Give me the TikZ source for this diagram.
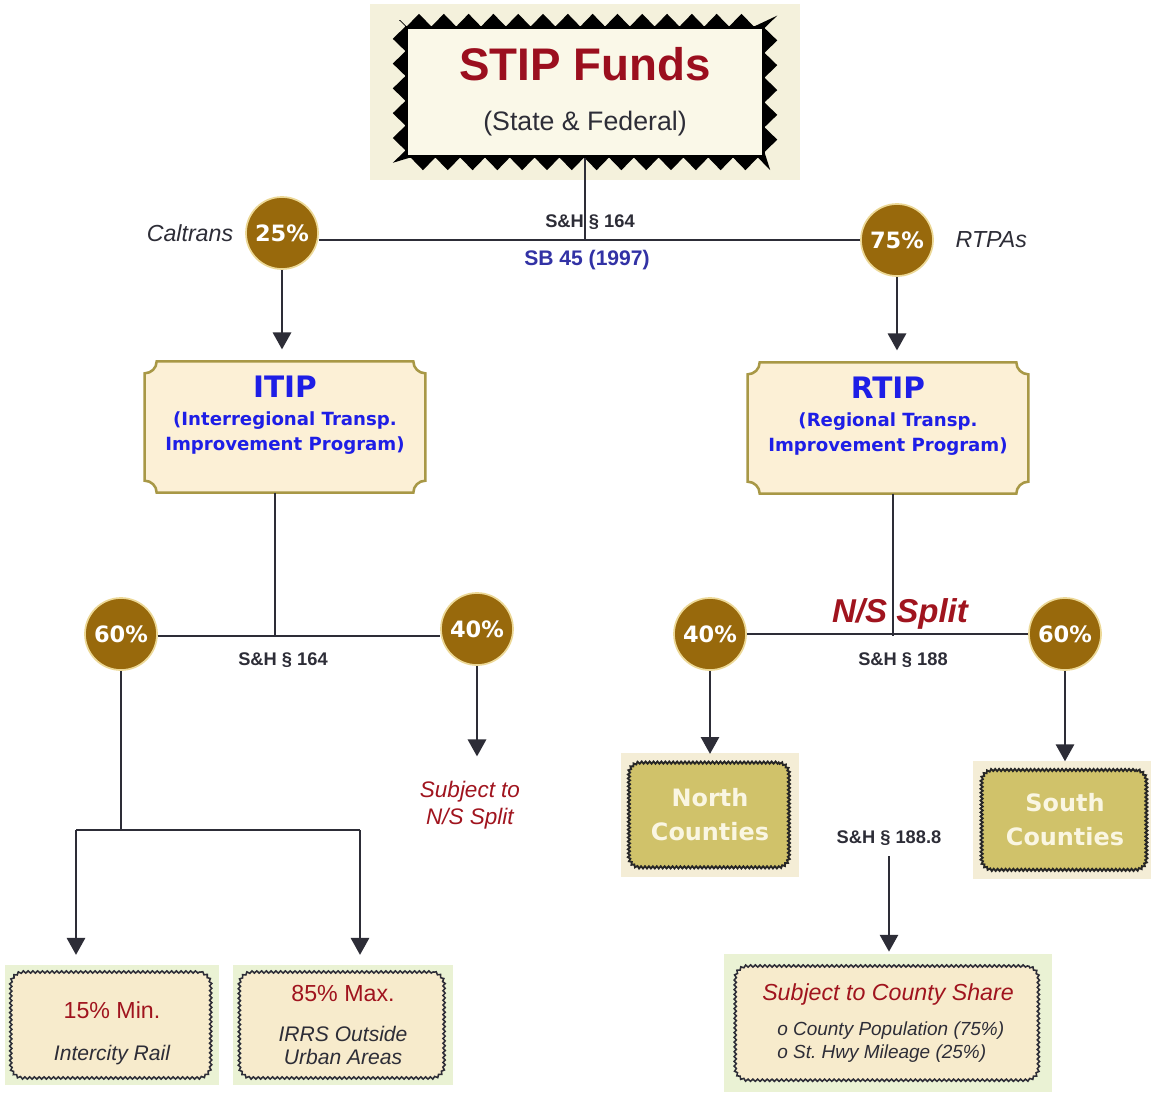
\documentclass[tikz,border=0pt]{standalone}
\usepackage{fontspec}
\setmainfont{Liberation Sans}
\newfontfamily\verd{DejaVu Sans}
\usetikzlibrary{arrows.meta,positioning,calc,decorations.pathmorphing,backgrounds}
\usepackage{xcolor}
\definecolor{stipred}{RGB}{155,15,30}
\definecolor{stipcream}{RGB}{250,248,232}
\definecolor{pctbrown}{RGB}{152,105,12}
\definecolor{pctrim}{RGB}{236,216,150}
\definecolor{progblue}{RGB}{30,30,230}
\definecolor{sbblue}{RGB}{50,50,165}
\definecolor{plaqfill}{RGB}{252,240,214}
\definecolor{plaqline}{RGB}{168,152,70}
\definecolor{paleyellow}{RGB}{244,241,220}
\definecolor{palegreen}{RGB}{234,242,212}
\definecolor{boxcream}{RGB}{247,235,204}
\definecolor{olivebox}{RGB}{208,194,106}
\definecolor{olivebg}{RGB}{244,237,214}
\definecolor{countytext}{RGB}{250,246,226}
\definecolor{notered}{RGB}{160,20,30}
\definecolor{inkgray}{RGB}{45,45,55}

\newcommand{\fsz}[2]{\fontsize{#1}{#2}\selectfont}
% scroll frame with bitten corners round a node
\newcommand{\plaque}[2]{%
  \draw[plaqline, line width=1.8pt, fill=plaqfill]
    ($(#1.north west)+(#2,0)$) -- ($(#1.north east)+(-#2,0)$)
    .. controls ($(#1.north east)+(-#2,0.55*#2)$) and ($(#1.north east)+(-0.55*#2,#2)$) .. ($(#1.north east)+(0,#2)$)
    -- ($(#1.south east)+(0,-#2)$)
    .. controls ($(#1.south east)+(-0.55*#2,-#2)$) and ($(#1.south east)+(-#2,-0.55*#2)$) .. ($(#1.south east)+(-#2,0)$)
    -- ($(#1.south west)+(#2,0)$)
    .. controls ($(#1.south west)+(#2,-0.55*#2)$) and ($(#1.south west)+(0.55*#2,-#2)$) .. ($(#1.south west)+(0,-#2)$)
    -- ($(#1.north west)+(0,#2)$)
    .. controls ($(#1.north west)+(0.55*#2,#2)$) and ($(#1.north west)+(#2,0.55*#2)$) .. cycle;}
% pale panel behind a box
\newcommand{\backdrop}[3]{\fill[#1] ($(#2.north west)+(-#3,-#3)$) rectangle ($(#2.south east)+(#3,#3)$);}

\begin{document}
\begin{tikzpicture}[x=0.025cm, y=-0.025cm,
    stipbox/.style={rectangle, draw=black, line width=2pt, fill=stipcream, minimum width=8.92cm, minimum height=3.22cm, align=center, inner sep=0pt, font=\fsz{19}{35.5}},
    pct/.style={circle, fill=pctbrown, draw=pctrim, line width=1.2pt, minimum size=1.8cm, inner sep=0pt, text=white, font=\verd\bfseries\fsz{16}{18}},
    link/.style={draw=inkgray, line width=1.4pt},
    flow/.style={link, -{Triangle[width=13pt,length=12pt]}},
    law/.style={font=\bfseries\fsz{13}{15}, text=inkgray},
    who/.style={font=\itshape\fsz{16.5}{19}, text=inkgray},
    prog/.style={rectangle, minimum width=7cm, minimum height=3.27cm, align=center, text=progblue, inner sep=0pt, font=\verd\bfseries\fsz{12.9}{17.8}},
    note/.style={font=\itshape\fsz{16}{19.2}, text=notered, align=center},
    split/.style={font=\bfseries\itshape\fsz{23.5}{26}, text=notered},
    share/.style={rectangle, fill=boxcream, rounded corners=9pt, postaction={sharp corners, draw=inkgray, line width=1.1pt, decorate, decoration={snake, segment length=3.4pt, amplitude=0.8pt}}, align=center, inner sep=0pt, text=inkgray, font=\fsz{15}{16.5}},
    county/.style={rectangle, fill=olivebox, rounded corners=8pt, postaction={sharp corners, draw=black!85, line width=1.3pt, decorate, decoration={snake, segment length=2.8pt, amplitude=0.8pt}}, align=center, inner sep=0pt, text=countytext, font=\verd\bfseries\fsz{17}{24.2}}
]
\useasboundingbox (0,0) rectangle (1151,1094);

% Funds
\node[stipbox] (stip) at (585,92) {{\fsz{32.5}{36}\bfseries\color{stipred}STIP Funds}\\{\color{inkgray}(State \& Federal)}};
\path[fill=black, even odd rule]
  decorate[decoration={zigzag, segment length=0.62cm, amplitude=0.16cm}]
    {($(stip.north west)+(-6,-6)$) rectangle ($(stip.south east)+(6,6)$)}
  (stip.north west) rectangle (stip.south east);

% first split
\node[pct] (p25) at (282,233) {25\%};
\node[pct] (p75) at (897,240) {75\%};
\node[who, left=5pt of p25] (caltrans) {Caltrans};
\node[who, right=12pt of p75] (rtpas) {RTPAs};
\draw[link] (stip) -- (stip |- p75);
\draw[link] (p25.east |- p75) -- (p75);
\node[law] (sh164a) at (590,222) {S\&H § 164};
\node[law, text=sbblue, font=\bfseries\fsz{15}{17}] (sb45) at (587,260) {SB 45 (1997)};

% programs
\node[prog, text depth=19.9pt] (itip) at (285,427) {{\fsz{21}{24}ITIP}\\[2pt](Interregional Transp.\\Improvement Program)};
\node[prog, text depth=19.9pt] (rtip) at (888,428) {{\fsz{21}{24}RTIP}\\[2pt](Regional Transp.\\Improvement Program)};
\draw[flow, shorten >=8.5pt] (p25) -- (p25 |- itip.north);
\draw[flow, shorten >=8.5pt] (p75) -- (p75 |- rtip.north);

% ITIP split
\coordinate (lsplit) at (275,636);
\node[pct] (p60l) at (121,634) {60\%};
\node[pct] (p40l) at (477,629) {40\%};
\draw[link] (lsplit |- itip.south) -- (lsplit);
\draw[link] (p60l.east |- lsplit) -- (p40l.west |- lsplit);
\node[law] (sh164b) at (283,660) {S\&H § 164};
\node[note] (nsnote) at (470,805) {Subject to\\N/S Split};
\draw[flow, shorten >=14pt] (p40l) -- (p40l |- nsnote.north);

\node[share, minimum width=5cm, minimum height=2.65cm, text height=53pt] (minbox) at (112,1025)
  {{\color{notered}\fsz{16.5}{18}15\% Min.}\\[13pt]{\itshape Intercity Rail}};
\node[share, minimum width=5.12cm, minimum height=2.65cm] (maxbox) at (343,1025)
  {{\color{notered}\fsz{16.5}{18}85\% Max.}\\[12pt]{\itshape IRRS Outside}\\{\itshape Urban Areas}};
\coordinate (forkl) at (76,830);
\coordinate (forkr) at (360,830);
\draw[link] (p60l) -- (p60l |- forkl);
\draw[link] (forkl) -- (forkr);
\draw[flow, shorten >=12pt] (forkl) -- (forkl |- minbox.north);
\draw[flow, shorten >=12pt] (forkr) -- (forkr |- maxbox.north);

% RTIP split
\coordinate (rsplit) at (893,636);
\node[pct] (p40r) at (710,634) {40\%};
\node[pct] (p60r) at (1065,634) {60\%};
\draw[link] (rsplit |- rtip.south) -- (rsplit);
\draw[link] (p40r) -- (p60r);
\node[split] (nssplit) at (900,614) {N/S Split};
\node[law] (sh188) at (903,660) {S\&H § 188};
\node[county, minimum width=4cm, minimum height=2.62cm] (north) at (710,815) {North\\Counties};
\node[county, minimum width=4.12cm, minimum height=2.5cm] (south) at (1065,820) {South\\Counties};
\draw[flow, shorten >=6pt] (p40r) -- (north);
\draw[flow, shorten >=6pt] (p60r) -- (south);

\node[law] (sh1888) at (889,838) {S\&H § 188.8};
\node[share, minimum width=7.58cm, minimum height=2.85cm, align=left, font=\itshape\fsz{13.5}{16.4}] (cshare) at (888,1023)
  {{\color{notered}\fsz{16.5}{18}Subject to County Share}\\[9pt]\hspace*{10.7pt}o County Population (75\%)\\\hspace*{10.7pt}o St.\ Hwy Mileage (25\%)};
\draw[flow, shorten <=4pt, shorten >=10pt] (sh1888) -- (sh1888 |- cshare.north);

% panels
\begin{scope}[on background layer]
  \fill[white] (0,0) rectangle (1151,1094);
  \fill[paleyellow] ($(stip.north west)+(-35,-22)$) rectangle ($(stip.south east)+(35,22)$);
  \plaque{itip}{12}
  \plaque{rtip}{12}
  \backdrop{olivebg}{north}{9}
  \backdrop{olivebg}{south}{9}
  \backdrop{palegreen}{minbox}{7}
  \backdrop{palegreen}{maxbox}{7}
  \backdrop{palegreen}{cshare}{12}
\end{scope}

\end{tikzpicture}
\end{document}
